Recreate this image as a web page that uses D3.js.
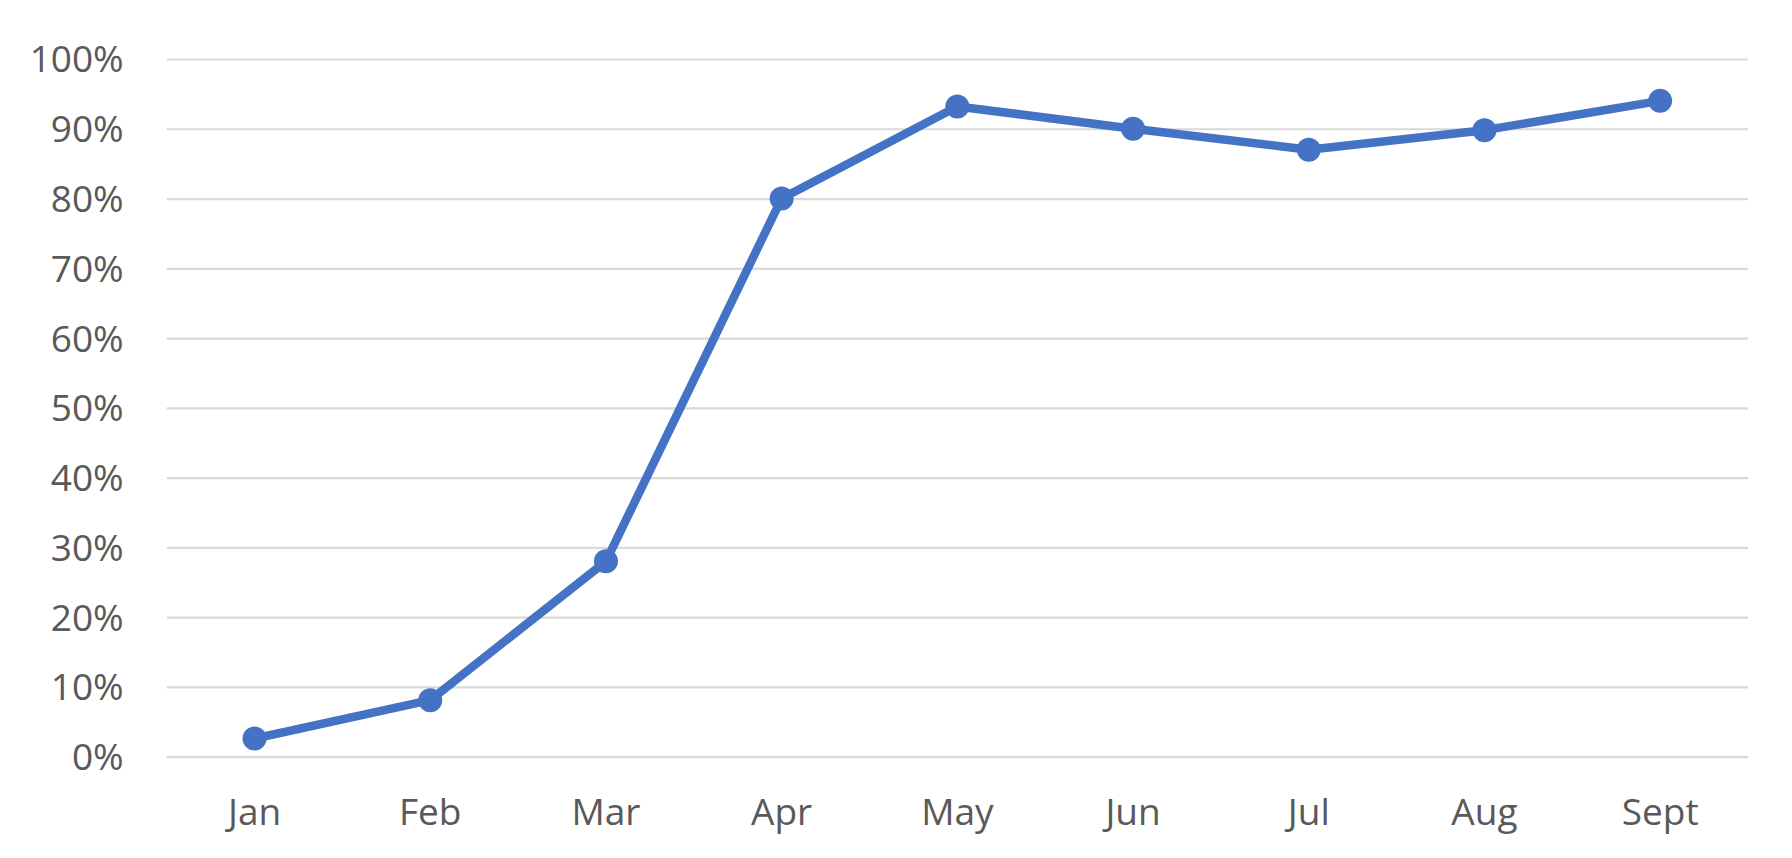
<!DOCTYPE html>
<html><head><meta charset="utf-8">
<script src="https://cdn.jsdelivr.net/npm/d3@7"></script>
<style>html,body{margin:0;padding:0;background:#fff;}svg{display:block;}</style>
</head><body>
<svg id="chart" width="1792" height="858"></svg>
<script>
const months = ["Jan","Feb","Mar","Apr","May","Jun","Jul","Aug","Sept"];
const values = [0.026, 0.081, 0.28, 0.80, 0.932, 0.90, 0.87, 0.898, 0.94];
const yTicks = [0,0.1,0.2,0.3,0.4,0.5,0.6,0.7,0.8,0.9,1.0];

(function(){
const svg = d3.select("#chart");
const mLeft = 166.7, mRight = 1748, mTop = 59, mBottom = 756.7;
const x = d3.scaleBand().domain(months).range([mLeft, mRight]);
const y = d3.scaleLinear().domain([0,1]).range([mBottom, mTop]);
const font = "'Open Sans', sans-serif";

const yAxis = d3.axisLeft(y).tickValues(yTicks).tickFormat(d3.format(".0%")).tickSize(-(mRight-mLeft)).tickPadding(43);
const gy = svg.append("g").attr("transform", `translate(${mLeft},0)`).call(yAxis);
gy.select(".domain").remove();
gy.selectAll(".tick line").attr("stroke", "#d9d9d9").attr("stroke-width", 2.2);
gy.selectAll(".tick text").attr("fill", "#595959").style("font-family", font).style("font-size", "37px").attr("dy", "0.35em");

const xAxis = d3.axisBottom(x).tickSize(0).tickPadding(42);
const gx = svg.append("g").attr("transform", `translate(0,${mBottom})`).call(xAxis);
gx.select(".domain").remove();
gx.selectAll(".tick text").attr("fill", "#595959").style("font-family", font).style("font-size", "37px");

const line = d3.line().x((d,i) => x(months[i]) + x.bandwidth()/2).y(d => y(d));
svg.append("path").datum(values).attr("d", line).attr("fill", "none")
  .attr("stroke", "#4472C4").attr("stroke-width", 8.5).attr("stroke-linejoin", "round").attr("stroke-linecap", "round");
svg.selectAll("circle.pt").data(values).join("circle").attr("class","pt")
  .attr("cx", (d,i) => x(months[i]) + x.bandwidth()/2).attr("cy", d => y(d))
  .attr("r", 12).attr("fill", "#4472C4");
})();
</script>
</body></html>
